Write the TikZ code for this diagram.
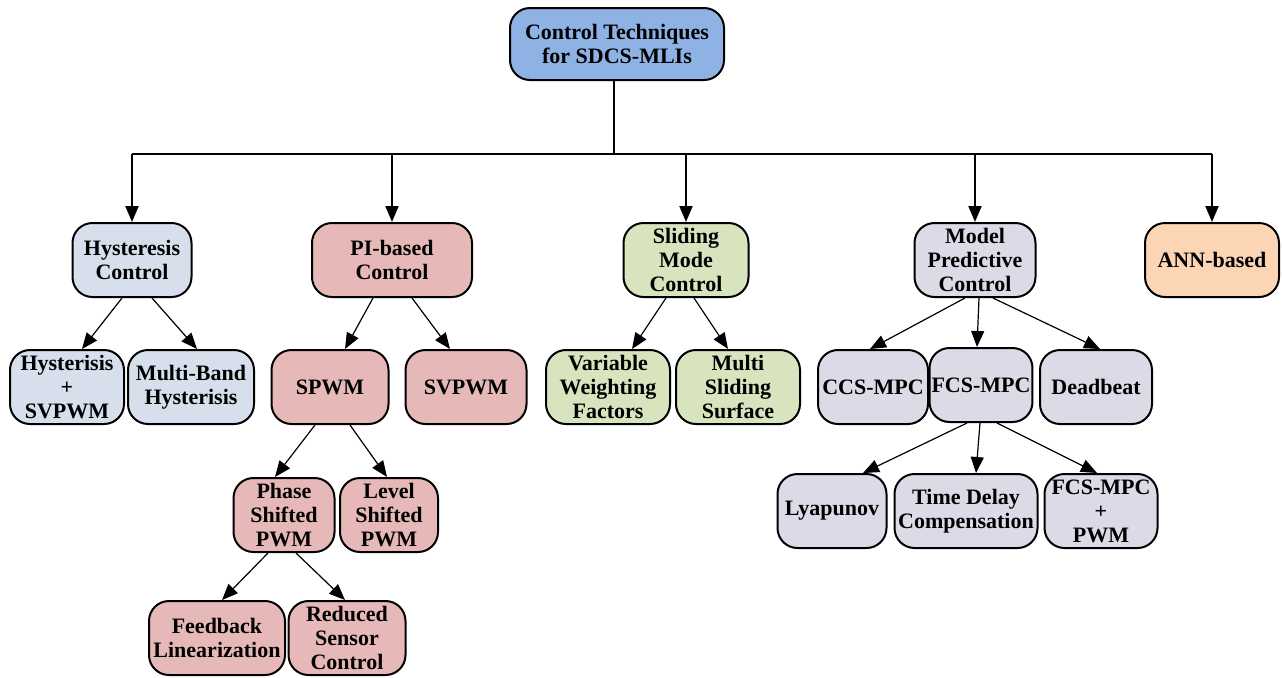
\documentclass[tikz,border=0pt]{standalone}
\usepackage{fontspec}
\setmainfont{Liberation Serif}
\usetikzlibrary{arrows.meta,calc}
\tikzset{
  box/.style={
    draw=black,
    line width=1pt,
    rounded corners=10pt,
    align=center,
    font=\fontsize{11}{12}\selectfont\bfseries,
    inner sep=1pt,
    minimum height=37pt
  },
  box-root/.style={box, fill=rootblue, minimum width=107pt, minimum height=36pt},
  box-hyst/.style={box, fill=hystblue},
  box-pi/.style={box, fill=pipink},
  box-slide/.style={box, fill=slidegreen},
  box-mpc/.style={box, fill=mpclilac},
  box-ann/.style={box, fill=annpeach},
  w/.style={minimum width=#1},
  bus/.style={line width=1pt},
  conn-arrow/.style={line width=0.6pt, -{Triangle[length=8pt,width=6.5pt]}},
  bus-arrow/.style={line width=1pt, -{Triangle[length=8pt,width=6.5pt]}}
}
\definecolor{rootblue}{RGB}{142,178,227}
\definecolor{hystblue}{RGB}{214,223,235}
\definecolor{pipink}{RGB}{230,185,184}
\definecolor{slidegreen}{RGB}{215,228,189}
\definecolor{mpclilac}{RGB}{222,217,230}
\definecolor{annpeach}{RGB}{252,213,181}

\begin{document}
\begin{tikzpicture}[x=0.5pt, y=-0.5pt]
  \useasboundingbox (0,0) rectangle (1282,677);
  % Root
  \node[box-root] (root) at (617,44) {Control Techniques\\for SDCS-MLIs};
  % Level 1
  \node[box-hyst, w=59.5pt]  (hyst)  at (132,260)  {Hysteresis\\Control};
  \node[box-pi, w=80pt]      (pi)    at (392,260)  {PI-based\\Control};
  \node[box-slide, w=62.5pt] (slide) at (686,260)  {Sliding\\Mode\\Control};
  \node[box-mpc, w=60.5pt]   (mpc)   at (975,260)  {Model\\Predictive\\Control};
  \node[box-ann, w=67pt]     (ann)   at (1212,260) {ANN-based};
  % Level 2
  \node[box-hyst, w=57pt]    (hyssv) at (67,387)   {Hysterisis\\+\\SVPWM};
  \node[box-hyst, w=63pt]    (band)  at (191,387)  {Multi-Band\\Hysterisis};
  \node[box-pi, w=58.5pt]    (spwm)  at (330,387)  {SPWM};
  \node[box-pi, w=60.5pt]    (svpwm) at (466,387)  {SVPWM};
  \node[box-slide, w=62pt]   (vwf)   at (608,387)  {Variable\\Weighting\\Factors};
  \node[box-slide, w=62pt]   (mss)   at (738,387)  {Multi\\Sliding\\Surface};
  \node[box-mpc, w=55pt]     (ccs)   at (873,387)  {CCS-MPC};
  \node[box-mpc, w=49.5pt]   (fcs)   at (981,385)  {FCS-MPC};
  \node[box-mpc, w=56pt]     (dead)  at (1096,387) {Deadbeat};
  % Level 3
  \node[box-pi, w=50.5pt]    (psp)   at (284,515)  {Phase\\Shifted\\PWM};
  \node[box-pi, w=49pt]      (lsp)   at (389,515)  {Level\\Shifted\\PWM};
  \node[box-mpc, w=54.5pt]   (lyap)  at (832,511)  {Lyapunov};
  \node[box-mpc, w=71.5pt]   (tdc)   at (966,511)  {Time Delay\\Compensation};
  \node[box-mpc, w=56.5pt]   (fcspwm) at (1101,511) {FCS-MPC\\+\\PWM};
  % Level 4
  \node[box-pi, w=68pt]      (fblin) at (217,638)  {Feedback\\Linearization};
  \node[box-pi, w=58.5pt]    (rsc)   at (347,638)  {Reduced\\Sensor\\Control};

  % Bus from root
  \coordinate (bus) at ($(root.south)+(0,-36.5pt)$);
  \draw[bus] ([xshift=-1.5pt]root.south) -- ([xshift=-1.5pt]bus);
  \draw[bus] (hyst.north |- bus) -- (ann.north |- bus);
  \foreach \n in {hyst, pi, slide, mpc, ann}
    \draw[bus-arrow] (\n.north |- bus) -- (\n.north);

  % Hysteresis
  \draw[conn-arrow] ([xshift=-5pt]hyst.south) -- ([xshift=7.5pt]hyssv.north);
  \draw[conn-arrow] ([xshift=10pt]hyst.south) -- ([xshift=3pt]band.north);
  % PI-based
  \draw[conn-arrow] ([xshift=-9.5pt]pi.south) -- ([xshift=7.5pt]spwm.north);
  \draw[conn-arrow] ([xshift=10pt]pi.south) -- ([xshift=-8pt]svpwm.north);
  \draw[conn-arrow] ([xshift=-7.5pt]spwm.south) -- ([xshift=-4.5pt]psp.north);
  \draw[conn-arrow] ([xshift=10pt]spwm.south) -- ([xshift=-1pt]lsp.north);
  \draw[conn-arrow] ([xshift=-8pt]psp.south) -- ([xshift=2.5pt]fblin.north);
  \draw[conn-arrow] ([xshift=6pt]psp.south) -- ([xshift=-1pt]rsc.north);
  % Sliding mode
  \draw[conn-arrow] ([xshift=-10pt]slide.south) -- ([xshift=12pt]vwf.north);
  \draw[conn-arrow] ([xshift=4pt]slide.south) -- ([xshift=-5pt]mss.north);
  % MPC
  \draw[conn-arrow] ([xshift=-5pt]mpc.south) -- ([xshift=-1.5pt]ccs.north);
  \draw[conn-arrow] ([xshift=2pt]mpc.south) -- ([xshift=-2pt]fcs.north);
  \draw[conn-arrow] ([xshift=9pt]mpc.south) -- ([xshift=2pt]dead.north);
  \draw[conn-arrow] ([xshift=-7pt]fcs.south) -- ([xshift=15.5pt]lyap.north);
  \draw[conn-arrow] ([xshift=-0.5pt]fcs.south) -- ([xshift=5pt]tdc.north);
  \draw[conn-arrow] ([xshift=8pt]fcs.south) -- ([xshift=-2pt]fcspwm.north);
\end{tikzpicture}
\end{document}
